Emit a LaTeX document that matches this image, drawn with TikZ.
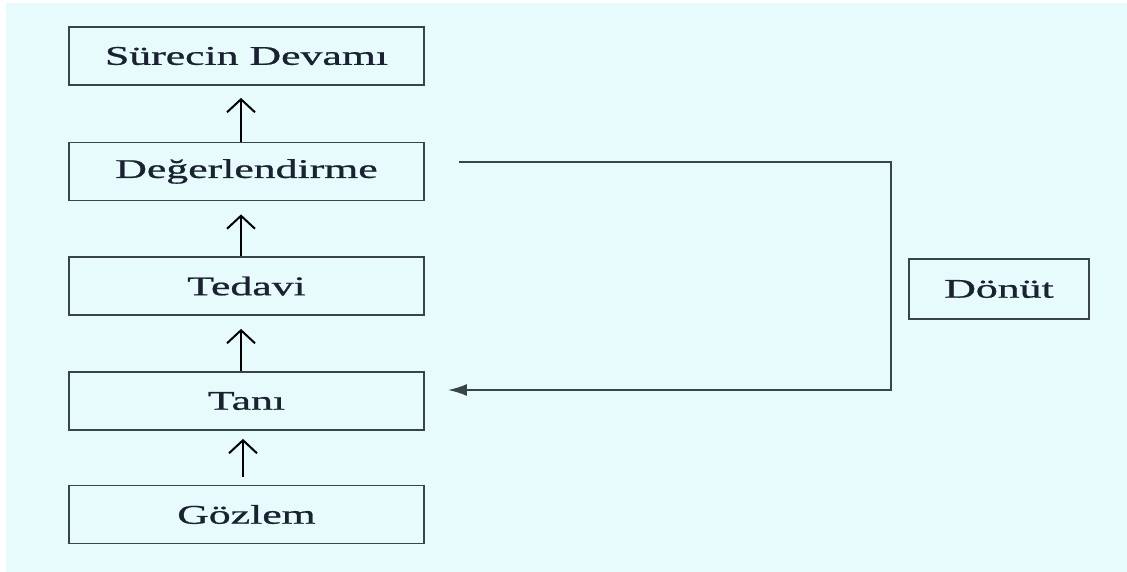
\documentclass[tikz,border=0pt]{standalone}
\usepackage{fontspec}
\setmainfont{Liberation Serif}[FakeBold=0.7,BoldFont=Liberation Serif]
\usetikzlibrary{arrows.meta,calc}
\definecolor{bgcyan}{HTML}{E7FBFD}
\definecolor{edgegray}{HTML}{384449}
\definecolor{inkblue}{HTML}{1A2130}
\newcommand{\wlabel}[1]{\scalebox{1.62}[1]{\bfseries #1}}
\tikzset{
  stage/.style={draw=edgegray, line width=1.8pt, fill=bgcyan,
    minimum width=355pt, minimum height=58pt, inner sep=0pt,
    text=inkblue, font=\fontsize{27}{30}\selectfont},
  upflow/.style={draw=black, line width=2pt,
    -{Straight Barb[length=13pt,width=28pt,line width=2pt]}},
  loopline/.style={draw=edgegray, line width=2pt,
    -{Latex[length=19pt,width=12pt]}}
}
\begin{document}
\begin{tikzpicture}[x=1pt,y=-1pt]
  \useasboundingbox (0,0) rectangle (1127,572);
  \fill[white] (0,0) rectangle (1127,572);
  \fill[bgcyan] (6,3) rectangle (1127,572);

  % process stages
  \node[stage] (S)  at (246.5,56)    {\wlabel{Sürecin Devamı}};
  \node[stage] (D)  at (246.5,171.5) {\wlabel{Değerlendirme}};
  \node[stage] (T)  at (246.5,286)   {\wlabel{Tedavi}};
  \node[stage] (Ta) at (246.5,401)   {\wlabel{Tanı}};
  \node[stage] (G)  at (246.5,514.5) {\wlabel{Gözlem}};

  % feedback label
  \node[stage, minimum width=180pt, minimum height=60pt] (F) at (999,289) {\wlabel{Dönüt}};

  % upward flow between stages
  \draw[upflow] ([xshift=-5.5pt]D.north)  -- ([xshift=-5.5pt,yshift=-12pt]S.south);
  \draw[upflow] ([xshift=-5.5pt]T.north)  -- ([xshift=-5.5pt,yshift=-13pt]D.south);
  \draw[upflow] ([xshift=-5.5pt]Ta.north) -- ([xshift=-5.5pt,yshift=-13pt]T.south);
  \draw[upflow] ([xshift=-3.5pt,yshift=8pt]G.north) -- ([xshift=-3.5pt,yshift=-8pt]Ta.south);

  % feedback loop from evaluation back to diagnosis
  \coordinate (fbstart) at ([xshift=34pt,yshift=9.5pt]D.east);
  \coordinate (fbend)   at ([xshift=23pt,yshift=11pt]Ta.east);
  \draw[loopline] (fbstart) -- (891,162) -- (891,390) -- (fbend);
\end{tikzpicture}
\end{document}
